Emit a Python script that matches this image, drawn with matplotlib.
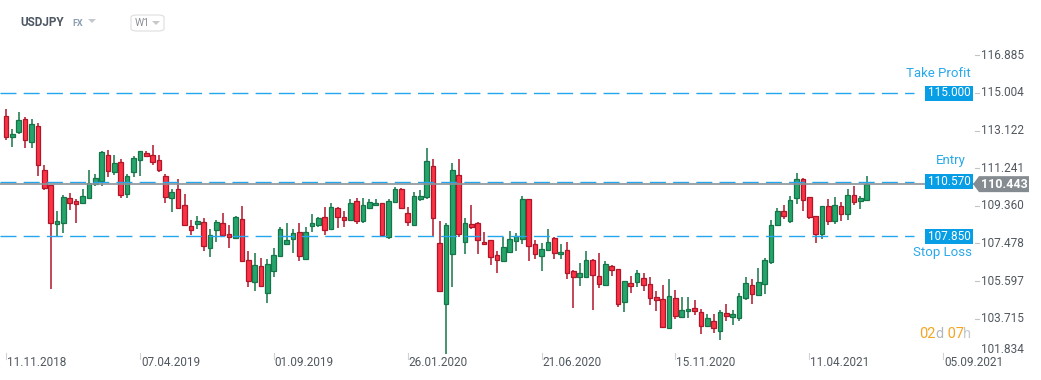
import matplotlib
matplotlib.use('Agg')
import matplotlib.pyplot as plt
import matplotlib.transforms as mtransforms
import matplotlib.dates as mdates
from matplotlib.patches import Rectangle, Polygon, FancyBboxPatch
import pandas as pd
import numpy as np

plt.rcParams['font.family'] = ['Roboto', 'DejaVu Sans']

# ---------------- data ----------------
symbol = "USDJPY"
market = "FX"
interval = "W1"
first_week = "2018-11-11"

opens = [113.85, 112.78, 113.07, 113.68, 112.57, 113.33, 111.13, 110.38, 108.47, 108.52,
         109.73, 109.58, 109.52, 109.77, 110.45, 110.62, 111.88, 111.07, 111.53, 109.97,
         111.03, 111.67, 112.00, 111.90, 111.65, 110.85, 109.77, 110.20, 109.40, 108.33,
         108.47, 108.55, 107.27, 108.17, 108.48, 107.95, 107.73, 108.68, 106.63, 105.57,
         106.33, 105.02, 106.08, 106.87, 107.47, 107.72, 108.03, 106.68, 108.37, 108.42,
         108.78, 108.22, 109.23, 108.78, 108.67, 109.58, 108.58, 109.27, 109.38, 109.48,
         107.82, 109.53, 110.18, 108.98, 108.38, 109.72, 109.78, 111.33, 107.48, 104.43,
         106.93, 110.88, 107.57, 108.43, 108.48, 107.53, 107.63, 106.88, 106.62, 107.07,
         107.58, 107.72, 109.68, 107.43, 106.83, 107.17, 107.73, 106.93, 107.13, 106.08,
         105.78, 105.78, 106.63, 105.83, 105.42, 106.33, 106.18, 104.53, 105.48, 105.53,
         105.73, 105.43, 104.80, 104.68, 103.23, 104.73, 103.82, 104.08, 104.23, 104.03,
         103.37, 103.58, 103.12, 103.98, 103.82, 103.77, 104.77, 105.38, 104.92, 105.43,
         106.53, 108.38, 109.08, 108.58, 109.73, 110.68, 109.78, 108.83, 107.93, 109.33,
         108.58, 109.33, 108.93, 109.90, 109.58, 109.63]
highs = [114.20, 113.20, 114.05, 113.78, 113.70, 113.48, 111.40, 110.40, 109.08, 109.88,
         109.98, 109.72, 110.18, 111.15, 110.95, 112.10, 112.15, 111.88, 111.68, 110.95,
         111.85, 112.12, 112.12, 112.40, 111.90, 110.95, 110.18, 110.70, 109.95, 108.65,
         108.85, 108.75, 108.20, 108.65, 109.00, 108.40, 108.85, 109.35, 107.10, 106.98,
         106.73, 106.70, 107.25, 108.28, 108.48, 108.20, 108.50, 108.28, 108.95, 108.78,
         109.28, 109.50, 109.32, 109.10, 109.68, 109.75, 109.75, 109.68, 109.68, 109.50,
         109.68, 110.30, 110.23, 109.30, 110.03, 110.13, 112.23, 111.68, 108.60, 108.48,
         111.50, 111.70, 108.73, 109.40, 108.55, 108.05, 107.65, 107.08, 107.82, 108.12,
         107.98, 109.85, 109.68, 107.65, 107.48, 108.20, 107.78, 107.43, 107.53, 106.13,
         106.50, 107.10, 106.68, 107.00, 106.60, 106.38, 106.20, 105.58, 105.85, 106.15,
         105.98, 105.78, 105.08, 105.38, 105.70, 105.15, 104.80, 104.80, 104.65, 104.18,
         103.93, 103.93, 104.13, 104.45, 104.15, 104.98, 105.80, 105.70, 106.25, 106.73,
         108.63, 109.25, 109.38, 109.83, 110.98, 110.73, 109.78, 108.83, 109.33, 109.70,
         109.80, 109.55, 110.20, 110.35, 109.85, 110.85]
lows = [112.67, 112.32, 112.93, 112.27, 112.27, 110.87, 110.17, 105.22, 107.82, 108.02,
        109.15, 108.52, 109.47, 109.77, 110.35, 110.35, 110.82, 110.92, 109.77, 109.77,
        110.82, 110.87, 111.82, 111.42, 111.05, 109.50, 109.05, 109.25, 108.42, 107.88,
        108.22, 107.12, 106.82, 107.55, 107.88, 107.25, 107.70, 106.57, 105.32, 105.10,
        105.30, 104.52, 105.82, 106.82, 107.47, 107.02, 106.62, 106.68, 108.07, 108.32,
        107.92, 108.22, 108.27, 108.32, 108.60, 108.47, 108.48, 109.20, 109.38, 107.90,
        107.72, 109.53, 109.22, 108.37, 108.38, 109.62, 109.72, 107.82, 105.07, 101.93,
        105.32, 107.82, 106.97, 108.22, 106.97, 107.38, 106.42, 106.02, 106.57, 107.07,
        107.12, 107.43, 106.62, 106.72, 106.12, 107.12, 106.72, 106.72, 105.72, 104.27,
        105.37, 105.77, 104.17, 105.27, 105.37, 105.87, 104.32, 104.07, 105.02, 105.32,
        105.12, 104.40, 104.12, 103.27, 103.23, 103.72, 103.77, 103.77, 103.92, 102.97,
        103.32, 103.02, 102.67, 103.62, 103.42, 103.62, 104.67, 104.47, 104.92, 104.97,
        106.43, 108.38, 108.68, 108.48, 109.43, 109.08, 108.68, 107.52, 107.68, 108.38,
        108.43, 108.60, 108.63, 109.38, 109.22, 109.63]
closes = [112.78, 112.95, 113.63, 112.63, 113.43, 111.38, 110.23, 108.48, 108.58, 109.78,
          109.52, 109.47, 109.83, 110.48, 110.73, 112.03, 111.12, 111.48, 109.92, 110.83,
          111.73, 112.08, 111.87, 111.57, 111.17, 109.82, 110.05, 109.27, 108.42, 108.17,
          108.60, 107.37, 107.88, 108.55, 107.92, 107.78, 108.78, 106.58, 105.58, 106.38,
          105.37, 106.43, 106.88, 108.18, 107.63, 107.98, 106.87, 108.03, 108.48, 108.73,
          108.17, 109.28, 108.82, 108.63, 109.48, 108.58, 109.38, 109.53, 109.48, 107.92,
          109.58, 110.18, 109.27, 108.53, 109.83, 109.83, 111.58, 108.73, 105.12, 108.38,
          111.13, 107.93, 108.48, 108.32, 107.63, 107.43, 106.82, 106.67, 107.28, 107.68,
          107.87, 109.68, 107.37, 106.97, 107.18, 107.53, 106.98, 107.03, 105.98, 105.78,
          105.98, 106.63, 105.88, 105.43, 106.43, 106.13, 104.47, 105.58, 105.37, 105.98,
          105.42, 104.73, 104.67, 103.32, 104.83, 103.87, 104.13, 104.18, 104.08, 103.33,
          103.73, 103.27, 104.03, 103.87, 103.93, 104.83, 105.48, 104.97, 105.53, 106.65,
          108.38, 109.08, 108.83, 109.63, 110.68, 109.63, 108.78, 107.93, 109.33, 108.58,
          109.38, 108.93, 109.90, 109.53, 109.73, 110.443]

take_profit = 115.000
entry = 110.570
stop_loss = 107.850
last_price = closes[-1]

y_ticks = [116.885, 115.004, 113.122, 111.241, 109.360, 107.478, 105.597, 103.715, 101.834]
x_tick_dates = ["2018-11-11", "2019-04-07", "2019-09-01", "2020-01-26",
                "2020-06-21", "2020-11-15", "2021-04-11", "2021-09-05"]
countdown = [("02", "#f5a524"), ("d", "#b4b8bc"), (" 07", "#f5a524"), ("h", "#c6cacd")]

# ---------------- layout ----------------
W, H = 1041, 380
fig = plt.figure(figsize=(W / 100, H / 100), dpi=100)
ax = fig.add_axes([0, 0, 1, 1])
ax.axis('off')

dates = pd.date_range(first_week, periods=len(opens), freq='7D')
x = mdates.date2num(dates)
px_per_day = 6.375 / 7
x_left = x[0] - 6 / px_per_day
ax.set_xlim(x_left, x_left + W / px_per_day)
px_per_yen = 20.0
y_top = 119.65
ax.set_ylim(y_top - H / px_per_yen, y_top)

def fx(px):
    return px / W

def fy(py):
    return 1 - py / H

trans = mtransforms.blended_transform_factory(ax.transAxes, ax.transData)
transx = mtransforms.blended_transform_factory(ax.transData, ax.transAxes)

# ---------------- candles ----------------
o = np.array(opens); c = np.array(closes); hi = np.array(highs); lo = np.array(lows)
up = c >= o
up_fill, up_edge = '#25a56c', '#167548'
dn_fill, dn_edge = '#fb3344', '#b0162a'
edge_cols = np.where(up, up_edge, dn_edge)
fill_cols = np.where(up, up_fill, dn_fill)
ax.vlines(x, lo, hi, colors=edge_cols, linewidth=1.1, zorder=2)
body_w = 4.6 / px_per_day
heights = np.maximum(np.abs(c - o), 0.06)
ax.bar(x, heights, bottom=np.minimum(o, c), width=body_w, color=fill_cols,
       edgecolor=edge_cols, linewidth=0.9, zorder=3)

# ---------------- level lines ----------------
line_blue = '#22a6ee'
for lvl in (take_profit, entry, stop_loss):
    ax.plot([0, fx(914)], [lvl, lvl], transform=trans, color=line_blue,
            lw=1.0, ls=(0, (11.5, 5.2)), zorder=4)
ax.plot([0, fx(975)], [last_price, last_price], transform=trans, color='#8b9297',
        lw=1.2, zorder=4)

box_blue = '#079ee6'
box_h = 15 / px_per_yen
for lvl in (take_profit, entry, stop_loss):
    ax.add_patch(Rectangle((fx(925), lvl - box_h / 2), fx(973) - fx(925), box_h,
                           transform=trans, facecolor=box_blue, edgecolor='none', zorder=6))
    ax.text(fx(949), lvl, f'{lvl:.3f}', transform=trans, ha='center', va='center',
            color='white', fontsize=8.5, zorder=7)

# current price tag
gh = 8 / px_per_yen
poly = Polygon([(fx(973), last_price), (fx(979), last_price + gh), (fx(1029), last_price + gh),
                (fx(1029), last_price - gh), (fx(979), last_price - gh)],
               closed=True, transform=trans, facecolor='#858c91', edgecolor='none', zorder=6)
ax.add_patch(poly)
ax.text(fx(1004), last_price, f'{last_price:.3f}', transform=trans, ha='center', va='center',
        color='white', fontsize=9, fontweight='bold', zorder=7)

label_col = '#29a9ea'
ax.text(fx(971), take_profit + 19.5 / px_per_yen, 'Take Profit', transform=trans,
        ha='right', va='center', color=label_col, fontsize=9.5)
ax.text(fx(966), entry + 21 / px_per_yen, 'Entry', transform=trans,
        ha='right', va='center', color=label_col, fontsize=9.5)
ax.text(fx(972), stop_loss - 16.5 / px_per_yen, 'Stop Loss', transform=trans,
        ha='right', va='center', color=label_col, fontsize=9.5)

# ---------------- y axis labels ----------------
tick_col = '#50585f'
for i, v in enumerate(y_ticks):
    if i == len(y_ticks) - 1:
        ax.text(fx(981), v, f'{v:.3f}', transform=trans, ha='left', va='bottom',
                color=tick_col, fontsize=8.5)
    else:
        ax.text(fx(981), v, f'{v:.3f}', transform=trans, ha='left', va='center',
                color=tick_col, fontsize=8.5)
        ax.plot([fx(975), fx(979)], [v, v], transform=trans, color='#c4c4c4', lw=0.8)

# ---------------- x axis labels ----------------
for d in x_tick_dates:
    xd = mdates.date2num(pd.Timestamp(d))
    ax.plot([xd, xd], [fy(353), fy(359)], transform=transx, color='#d2d2d2', lw=0.8)
    ax.text(xd + 1 / px_per_day, fy(363), pd.Timestamp(d).strftime('%d.%m.%Y'),
            transform=transx, ha='left', va='center', color=tick_col, fontsize=8.5)

# ---------------- countdown ----------------
prev = ax.text(fx(919), fy(334), countdown[0][0], transform=ax.transAxes, ha='left',
               va='center', color=countdown[0][1], fontsize=10.5)
for txt, col in countdown[1:]:
    prev = ax.annotate(txt, xy=(1, 0), xycoords=prev, ha='left', va='bottom',
                       color=col, fontsize=10.5)

# ---------------- header ----------------
ax.text(fx(20), fy(23), symbol, transform=ax.transAxes, ha='left', va='center',
        color='#4d5762', fontsize=8.5, fontweight='bold')
ax.text(fx(72), fy(23.5), market, transform=ax.transAxes, ha='left', va='center',
        color='#8c9cb0', fontsize=6.5, fontweight='bold')
ax.add_patch(Polygon([(fx(88), fy(19)), (fx(96), fy(19)), (fx(92), fy(23))], closed=True,
                     transform=ax.transAxes, facecolor='#c3c8ce', edgecolor='none'))
ax.add_patch(FancyBboxPatch((fx(131), fy(31)), fx(164) - fx(131), fy(15) - fy(31),
                            boxstyle='round,pad=0,rounding_size=0.006',
                            transform=ax.transAxes, facecolor='white',
                            edgecolor='#dedede', lw=0.8))
ax.text(fx(135), fy(23.5), interval, transform=ax.transAxes, ha='left', va='center',
        color='#8a9095', fontsize=7.5)
ax.add_patch(Polygon([(fx(152), fy(21)), (fx(160), fy(21)), (fx(156), fy(25))], closed=True,
                     transform=ax.transAxes, facecolor='#c8c8c8', edgecolor='none'))

fig.savefig('out.png', dpi=100, facecolor='white')
